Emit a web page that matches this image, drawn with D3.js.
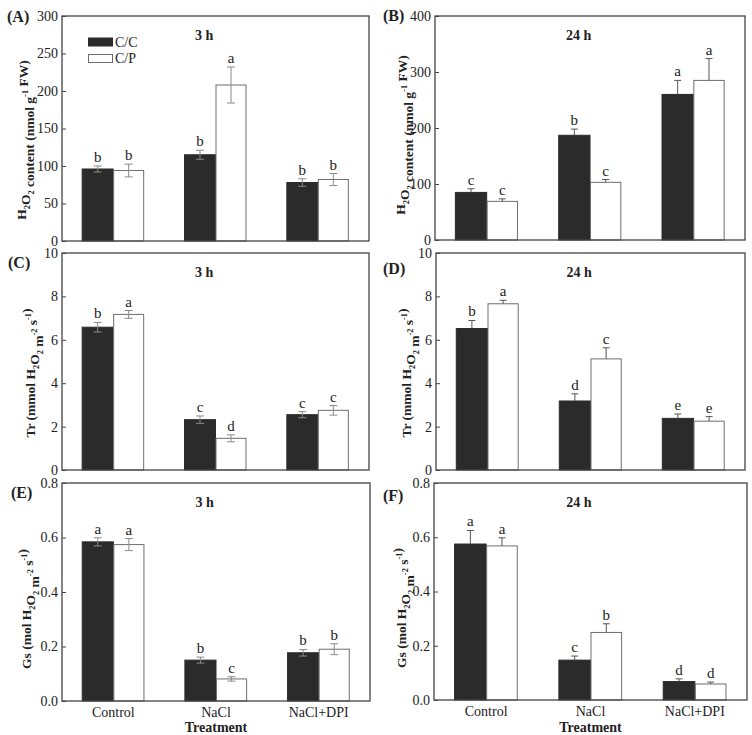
<!DOCTYPE html>
<html>
<head>
<meta charset="utf-8">
<script src="https://cdn.jsdelivr.net/npm/d3@7"></script>
<style>
  html, body { margin: 0; padding: 0; background: #fff; }
  svg { display: block; }
  text { font-family: "Liberation Serif", "Times New Roman", serif; fill: #222; }
</style>
</head>
<body>
<svg id="chart" width="752" height="735"></svg>
<script>
// ---------- data ----------
const categories = ["Control", "NaCl", "NaCl+DPI"];
const series = ["C/C", "C/P"];

const h2o2_3h_cc = [96, 115, 78];
const h2o2_3h_cc_err = [4, 6, 5];
const h2o2_3h_cp = [94, 208, 82];
const h2o2_3h_cp_err = [8.5, 24, 8];
const h2o2_3h_letters = [["b", "b"], ["b", "a"], ["b", "b"]];

const h2o2_24h_cc = [85, 187, 260];
const h2o2_24h_cc_err = [6.5, 11, 25];
const h2o2_24h_cp = [69, 103, 285];
const h2o2_24h_cp_err = [4.5, 5, 39];
const h2o2_24h_letters = [["c", "c"], ["b", "c"], ["a", "a"]];

const tr_3h_cc = [6.58, 2.32, 2.55];
const tr_3h_cc_err = [0.22, 0.17, 0.14];
const tr_3h_cp = [7.17, 1.46, 2.75];
const tr_3h_cp_err = [0.18, 0.16, 0.22];
const tr_3h_letters = [["b", "a"], ["c", "d"], ["c", "c"]];

const tr_24h_cc = [6.52, 3.18, 2.38];
const tr_24h_cc_err = [0.37, 0.33, 0.20];
const tr_24h_cp = [7.66, 5.12, 2.25];
const tr_24h_cp_err = [0.16, 0.51, 0.21];
const tr_24h_letters = [["b", "a"], ["d", "c"], ["e", "e"]];

const gs_3h_cc = [0.584, 0.150, 0.177];
const gs_3h_cc_err = [0.015, 0.011, 0.012];
const gs_3h_cp = [0.574, 0.081, 0.190];
const gs_3h_cp_err = [0.022, 0.008, 0.020];
const gs_3h_letters = [["a", "a"], ["b", "c"], ["b", "b"]];

const gs_24h_cc = [0.575, 0.147, 0.068];
const gs_24h_cc_err = [0.050, 0.015, 0.010];
const gs_24h_cp = [0.568, 0.249, 0.059];
const gs_24h_cp_err = [0.030, 0.032, 0.007];
const gs_24h_letters = [["a", "a"], ["c", "b"], ["d", "d"]];

const h2o2_3h_ticks = [0, 50, 100, 150, 200, 250, 300];
const h2o2_24h_ticks = [0, 100, 200, 300, 400];
const tr_ticks = [0, 2, 4, 6, 8, 10];
const gs_ticks = [0, 0.2, 0.4, 0.6, 0.8];

const panelLabels = ["(A)", "(B)", "(C)", "(D)", "(E)", "(F)"];
const timeLabels = ["3 h", "24 h"];
const xTitle = "Treatment";

// ---------- layout ----------
const svg = d3.select("#chart");
const DARK = "#2b2b2b";

const titleH2O2 = [["H", "n"], ["2", "sub"], ["O", "n"], ["2", "sub"], [" content  (nmol g", "n"], ["-1", "sup"], [" FW)", "n"]];
const titleTr = [["Tr (mmol H", "n"], ["2", "sub"], ["O", "n"], ["2", "sub"], [" m", "n"], ["-2", "sup"], [" s", "n"], ["-1", "sup"], [")", "n"]];
const titleGs = [["Gs (mol H", "n"], ["2", "sub"], ["O", "n"], ["2", "sub"], [" m", "n"], ["-2", "sup"], [" s", "n"], ["-1", "sup"], [")", "n"]];

const panels = [
  { label: panelLabels[0], time: timeLabels[0], box: [62, 369, 16, 241], domain: [0, 300], ticks: h2o2_3h_ticks, fmt: d3.format("d"),
    cc: h2o2_3h_cc, ccErr: h2o2_3h_cc_err, cp: h2o2_3h_cp, cpErr: h2o2_3h_cp_err, letters: h2o2_3h_letters,
    title: titleH2O2, titlePos: [26, 140], labelPos: [7, 22], both: true, legend: true, xlab: false },
  { label: panelLabels[1], time: timeLabels[1], box: [435, 745, 16, 240], domain: [0, 400], ticks: h2o2_24h_ticks, fmt: d3.format("d"),
    cc: h2o2_24h_cc, ccErr: h2o2_24h_cc_err, cp: h2o2_24h_cp, cpErr: h2o2_24h_cp_err, letters: h2o2_24h_letters,
    title: titleH2O2, titlePos: [405, 135], labelPos: [383, 21], both: false, legend: false, xlab: false },
  { label: panelLabels[2], time: timeLabels[0], box: [62, 369, 253, 470], domain: [0, 10], ticks: tr_ticks, fmt: d3.format("d"),
    cc: tr_3h_cc, ccErr: tr_3h_cc_err, cp: tr_3h_cp, cpErr: tr_3h_cp_err, letters: tr_3h_letters,
    title: titleTr, titlePos: [35, 373], labelPos: [8, 268], both: true, legend: false, xlab: false },
  { label: panelLabels[3], time: timeLabels[1], box: [436, 745, 253, 470], domain: [0, 10], ticks: tr_ticks, fmt: d3.format("d"),
    cc: tr_24h_cc, ccErr: tr_24h_cc_err, cp: tr_24h_cp, cpErr: tr_24h_cp_err, letters: tr_24h_letters,
    title: titleTr, titlePos: [411, 373], labelPos: [383, 274], both: false, legend: false, xlab: false },
  { label: panelLabels[4], time: timeLabels[0], box: [62, 370, 483, 701], domain: [0, 0.8], ticks: gs_ticks, fmt: d3.format(".1f"),
    cc: gs_3h_cc, ccErr: gs_3h_cc_err, cp: gs_3h_cp, cpErr: gs_3h_cp_err, letters: gs_3h_letters,
    title: titleGs, titlePos: [31, 609], labelPos: [11, 498], both: true, legend: false, xlab: true },
  { label: panelLabels[5], time: timeLabels[1], box: [434, 747, 483, 700], domain: [0, 0.8], ticks: gs_ticks, fmt: d3.format(".1f"),
    cc: gs_24h_cc, ccErr: gs_24h_cc_err, cp: gs_24h_cp, cpErr: gs_24h_cp_err, letters: gs_24h_letters,
    title: titleGs, titlePos: [406, 608], labelPos: [383, 501], both: false, legend: false, xlab: true }
];

function addRich(textSel, pieces, size) {
  pieces.forEach(([t, m]) => {
    const ts = textSel.append("tspan").text(t);
    if (m === "sub") {
      ts.attr("font-size", size * 0.62).attr("dy", size * 0.28);
      textSel.append("tspan").attr("dy", -size * 0.28).text("");
    } else if (m === "sup") {
      ts.attr("font-size", size * 0.62).attr("dy", -size * 0.42);
      textSel.append("tspan").attr("dy", size * 0.42).text("");
    }
  });
}

panels.forEach(p => {
  const [x0, x1, yT, yB] = p.box;
  const g = svg.append("g");
  const x = d3.scaleBand().domain(categories).range([x0, x1]).paddingInner(0.394).paddingOuter(0.197);
  const xs = d3.scaleBand().domain(series).range([0, x.bandwidth()]).padding(0);
  const y = d3.scaleLinear().domain(p.domain).range([yB, yT]);

  const rows = [];
  categories.forEach((c, i) => {
    rows.push({ cat: c, ser: series[0], v: p.cc[i], e: p.ccErr[i], l: p.letters[i][0] });
    rows.push({ cat: c, ser: series[1], v: p.cp[i], e: p.cpErr[i], l: p.letters[i][1] });
  });

  // bars
  g.selectAll("rect.bar").data(rows).join("rect")
    .attr("x", d => x(d.cat) + xs(d.ser) + (d.ser === series[1] ? 0.5 : 0))
    .attr("y", d => y(d.v))
    .attr("width", d => xs.bandwidth() - (d.ser === series[1] ? 1 : 0))
    .attr("height", d => y(0) - y(d.v))
    .attr("fill", d => d.ser === series[0] ? DARK : "#fff")
    .attr("stroke", d => d.ser === series[0] ? DARK : "#6e6e6e")
    .attr("stroke-width", 1);

  // error bars + letters
  const errColor = p.both ? "#8a8a8a" : "#555";
  const cap = p.both ? 4 : 3.5;
  rows.forEach(d => {
    const cx = x(d.cat) + xs(d.ser) + xs.bandwidth() / 2;
    const top = y(d.v + d.e);
    const bot = p.both ? y(d.v - d.e) : y(d.v);
    g.append("line").attr("x1", cx).attr("x2", cx).attr("y1", top).attr("y2", bot)
      .attr("stroke", errColor).attr("stroke-width", 1);
    g.append("line").attr("x1", cx - cap).attr("x2", cx + cap).attr("y1", top).attr("y2", top)
      .attr("stroke", errColor).attr("stroke-width", 1);
    if (p.both) {
      g.append("line").attr("x1", cx - cap).attr("x2", cx + cap).attr("y1", bot).attr("y2", bot)
        .attr("stroke", errColor).attr("stroke-width", 1);
    }
    g.append("text").attr("x", cx).attr("y", top - 4)
      .attr("text-anchor", "middle").attr("font-size", 15).attr("fill", "#222").text(d.l);
  });

  // frame
  g.append("rect").attr("x", x0).attr("y", yT).attr("width", x1 - x0).attr("height", yB - yT)
    .attr("fill", "none").attr("stroke", "#444").attr("stroke-width", 1.3);

  // y axis
  const ax = d3.axisLeft(y).tickValues(p.ticks).tickFormat(p.fmt).tickSizeInner(-4).tickSizeOuter(0).tickPadding(4);
  const axG = g.append("g").attr("transform", `translate(${x0},0)`).call(ax);
  axG.select(".domain").remove();
  axG.selectAll(".tick line").attr("stroke", "#444");
  axG.selectAll(".tick text").attr("font-size", 14).attr("fill", "#333")
    .attr("font-family", "'Liberation Serif', 'Times New Roman', serif");

  // x category labels
  if (p.xlab) {
    g.selectAll("text.cat").data(categories).join("text")
      .attr("x", c => x(c) + x.bandwidth() / 2).attr("y", yB + 16)
      .attr("text-anchor", "middle").attr("font-size", 14).attr("fill", "#333").text(c => c);
    g.append("text").attr("x", (x0 + x1) / 2).attr("y", 732)
      .attr("text-anchor", "middle").attr("font-size", 14).attr("font-weight", "bold").text(xTitle);
  }

  // time title
  g.append("text").attr("x", x0 + (x1 - x0) * 0.463).attr("y", yT + 24)
    .attr("text-anchor", "middle").attr("font-size", 14).attr("font-weight", "bold").text(p.time);

  // panel label
  g.append("text").attr("x", p.labelPos[0]).attr("y", p.labelPos[1])
    .attr("font-size", 16).attr("font-weight", "bold").text(p.label);

  // y title
  const tt = g.append("text")
    .attr("transform", `translate(${p.titlePos[0]},${p.titlePos[1]}) rotate(-90)`)
    .attr("text-anchor", "middle").attr("font-size", 13.5).attr("font-weight", "bold");
  addRich(tt, p.title, 13.5);

  // legend
  if (p.legend) {
    const lg = g.append("g");
    series.forEach((s, i) => {
      lg.append("rect").attr("x", 88.5).attr("y", 38 + i * 16.5).attr("width", 24).attr("height", 8)
        .attr("fill", i === 0 ? DARK : "#fff").attr("stroke", i === 0 ? DARK : "#6e6e6e");
      lg.append("text").attr("x", 115).attr("y", 46.5 + i * 16.5).attr("font-size", 14).attr("fill", "#333").text(s);
    });
  }
});
</script>
</body>
</html>
